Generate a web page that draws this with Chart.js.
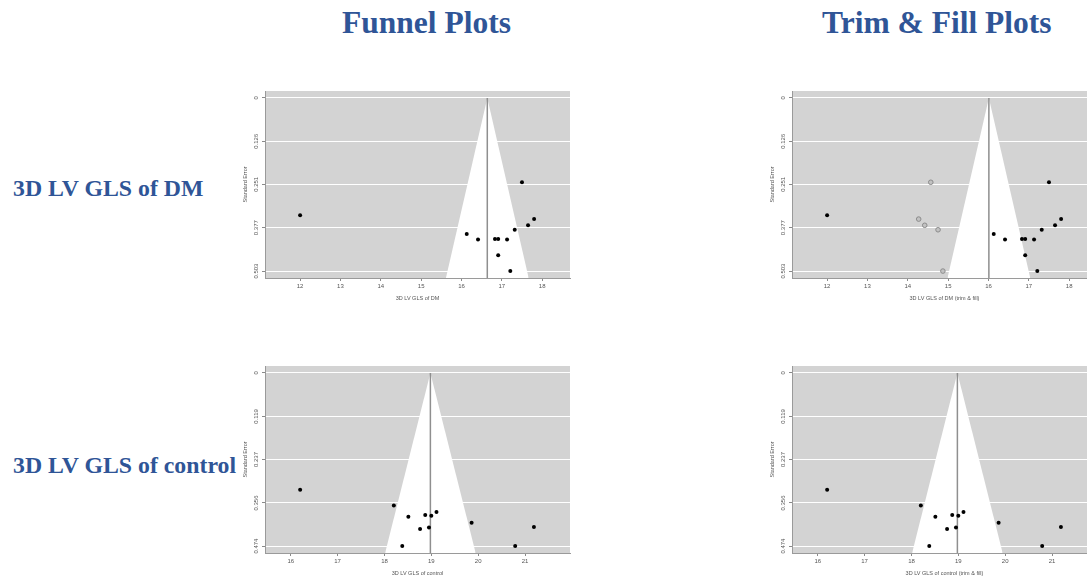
<!DOCTYPE html>
<html>
<head>
<meta charset="utf-8">
<script src="https://cdn.jsdelivr.net/npm/chart.js@4.4.1/dist/chart.umd.min.js"></script>
<style>
  html, body { margin: 0; padding: 0; width: 1087px; height: 580px; overflow: hidden; background: #fff; }
  .head { position: absolute; font-family: "Liberation Serif", "Times New Roman", serif; font-weight: bold;
          color: #2f5597; white-space: nowrap; line-height: 1; }
  .col { font-size: 31.5px; }
  .row { font-size: 23.8px; }
  canvas { position: absolute; }
</style>
</head>
<body>
<div class="head col" style="left:342px; top:7px">Funnel Plots</div>
<div class="head col" style="left:822px; top:7px">Trim &amp; Fill Plots</div>
<div class="head row" style="left:13px; top:177px">3D LV GLS of DM</div>
<div class="head row" style="left:13px; top:454px">3D LV GLS of control</div>

<canvas id="dmFunnel"></canvas>
<canvas id="dmTrimFill"></canvas>
<canvas id="ctrlFunnel"></canvas>
<canvas id="ctrlTrimFill"></canvas>

<script>
// DM studies: effect (GLS) and standard error
const dmEffect = [12.0, 16.13, 16.41, 16.83, 16.91, 17.13, 16.91, 17.21, 17.32, 17.50, 17.65, 17.80];
const dmSE     = [0.341, 0.395, 0.411, 0.410, 0.410, 0.411, 0.457, 0.503, 0.383, 0.245, 0.370, 0.352];
// studies imputed by trim & fill
const dmFillEffect = [14.57, 14.27, 14.42, 14.75, 14.87];
const dmFillSE     = [0.245, 0.352, 0.370, 0.383, 0.503];

// control studies
const ctrlEffect = [16.20, 18.20, 18.51, 18.87, 19.00, 19.11, 18.76, 18.95, 18.38, 19.86, 20.79, 21.19];
const ctrlSE     = [0.320, 0.363, 0.394, 0.389, 0.391, 0.381, 0.427, 0.423, 0.474, 0.410, 0.474, 0.4215];

// pooled estimates (funnel centre)
const dmPooled = 16.64;
const dmFillPooled = 16.01;
const ctrlPooled = 18.98;

// axis ticks
const dmXTicks = [12, 13, 14, 15, 16, 17, 18];
const ctrlXTicks = [16, 17, 18, 19, 20, 21];
const dmSETicks = [0, 0.126, 0.251, 0.377, 0.503];
const ctrlSETicks = [0, 0.119, 0.237, 0.356, 0.474];
const dmXRange = [11.13, 18.69];
const ctrlXRange = [15.45, 21.96];

const Y_W = 24, PAD_T = 6, PAD_R = 6, X_H = 32;
const SMALL_FONT = { family: "'Liberation Sans', Arial, sans-serif", size: 6 };

const plotBg = {
  id: "plotBg",
  beforeDraw(chart, args, opts) {
    const { ctx, chartArea: a } = chart;
    ctx.save();
    ctx.fillStyle = opts.color;
    ctx.fillRect(a.left, a.top, a.width, a.height);
    ctx.restore();
  },
};

function funnelChart(id, box, cfg) {
  const canvas = document.getElementById(id);
  canvas.width = Y_W + box.w + PAD_R;
  canvas.height = PAD_T + box.h + X_H;
  canvas.style.left = box.x - Y_W + "px";
  canvas.style.top = box.y - PAD_T + "px";

  const seMax = cfg.seTicks[cfg.seTicks.length - 1];
  const yMin = -0.04 * seMax;
  const yMax = 1.04 * seMax;

  const datasets = [
    {
      // white pseudo-confidence region
      data: [
        { x: cfg.pooled - 1.96 * yMax, y: yMax },
        { x: cfg.pooled, y: 0 },
        { x: cfg.pooled + 1.96 * yMax, y: yMax },
      ],
      borderColor: "rgba(0,0,0,0)",
      borderWidth: 0,
      backgroundColor: "#fff",
      fill: { value: yMax },
      pointRadius: 0,
      tension: 0,
      order: 4,
    },
    {
      data: [{ x: cfg.pooled, y: 0 }, { x: cfg.pooled, y: yMax }],
      borderColor: "#8f8f8f",
      borderWidth: 1.5,
      pointRadius: 0,
      fill: false,
      order: 3,
    },
    {
      data: cfg.effect.map((x, i) => ({ x, y: cfg.se[i] })),
      showLine: false,
      pointRadius: 2,
      pointBackgroundColor: "#000",
      pointBorderWidth: 0,
      order: 1,
    },
  ];

  if (cfg.fillEffect) {
    datasets.push({
      data: cfg.fillEffect.map((x, i) => ({ x, y: cfg.fillSE[i] })),
      showLine: false,
      pointRadius: 2.3,
      pointBackgroundColor: "#c2c2c2",
      pointBorderColor: "#8c8c8c",
      pointBorderWidth: 1,
      order: 2,
    });
  }

  new Chart(canvas, {
    type: "line",
    data: { datasets },
    plugins: [plotBg],
    options: {
      responsive: false,
      animation: false,
      events: [],
      layout: { padding: { top: PAD_T, right: PAD_R, left: 0, bottom: 0 } },
      plugins: {
        legend: { display: false },
        tooltip: { enabled: false },
        plotBg: { color: "#d3d3d3" },
      },
      scales: {
        x: {
          type: "linear",
          min: cfg.xRange[0],
          max: cfg.xRange[1],
          afterBuildTicks: (s) => { s.ticks = cfg.xTicks.map((v) => ({ value: v })); },
          afterFit: (s) => { s.height = X_H; },
          grid: { drawOnChartArea: false, tickLength: 3, tickColor: "#8a8a8a" },
          border: { color: "#9a9a9a" },
          ticks: { font: SMALL_FONT, color: "#555", padding: 1.5, maxRotation: 0, autoSkip: false },
          title: {
            display: true,
            text: cfg.xTitle,
            font: { family: SMALL_FONT.family, size: 5.5 },
            color: "#555",
            padding: { top: 0, bottom: 8.7 },
          },
        },
        y: {
          type: "linear",
          reverse: true,
          min: yMin,
          max: yMax,
          afterBuildTicks: (s) => { s.ticks = cfg.seTicks.map((v) => ({ value: v })); },
          afterFit: (s) => { s.width = Y_W; },
          grid: { color: "#fff", lineWidth: 1, tickLength: 3, tickColor: "#8a8a8a" },
          border: { color: "#9a9a9a" },
          ticks: {
            font: SMALL_FONT,
            color: "#555",
            minRotation: 90,
            maxRotation: 90,
            crossAlign: "center",
            padding: -1.5,
            autoSkip: false,
            callback: (v) => (v === 0 ? "0" : v.toFixed(3)),
          },
          title: {
            display: true,
            text: "Standard Error",
            font: { family: SMALL_FONT.family, size: 5.5 },
            color: "#555",
            padding: { top: 1, bottom: 0 },
          },
        },
      },
    },
  });
}

funnelChart("dmFunnel", { x: 265, y: 91, w: 305, h: 187 }, {
  effect: dmEffect, se: dmSE, pooled: dmPooled,
  xTicks: dmXTicks, seTicks: dmSETicks, xRange: dmXRange,
  xTitle: "3D LV GLS of DM",
});
funnelChart("dmTrimFill", { x: 792, y: 91, w: 305, h: 187 }, {
  effect: dmEffect, se: dmSE, pooled: dmFillPooled,
  fillEffect: dmFillEffect, fillSE: dmFillSE,
  xTicks: dmXTicks, seTicks: dmSETicks, xRange: dmXRange,
  xTitle: "3D LV GLS of DM (trim & fill)",
});
funnelChart("ctrlFunnel", { x: 265, y: 366, w: 305, h: 187 }, {
  effect: ctrlEffect, se: ctrlSE, pooled: ctrlPooled,
  xTicks: ctrlXTicks, seTicks: ctrlSETicks, xRange: ctrlXRange,
  xTitle: "3D LV GLS of control",
});
funnelChart("ctrlTrimFill", { x: 792, y: 366, w: 305, h: 187 }, {
  effect: ctrlEffect, se: ctrlSE, pooled: ctrlPooled,
  xTicks: ctrlXTicks, seTicks: ctrlSETicks, xRange: ctrlXRange,
  xTitle: "3D LV GLS of control (trim & fill)",
});
</script>
</body>
</html>
